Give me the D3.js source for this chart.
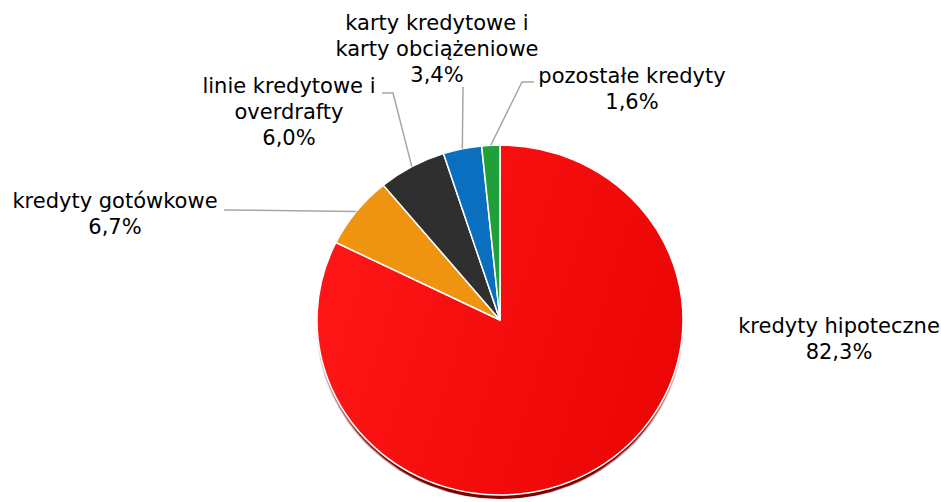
<!DOCTYPE html>
<html>
<head>
<meta charset="utf-8">
<script src="https://cdn.jsdelivr.net/npm/d3@7"></script>
<style>
  html, body { margin: 0; padding: 0; background: #fff; }
  svg { display: block; }
</style>
</head>
<body>
<svg id="chart" width="941" height="502"></svg>
<script>
// ---- data ----
const categories = ["kredyty hipoteczne", "kredyty gotówkowe", "linie kredytowe i overdrafty", "karty kredytowe i karty obciążeniowe", "pozostałe kredyty"];
const values = [82.3, 6.7, 6.0, 3.4, 1.6];
const labelLines = [
  ["kredyty hipoteczne", "82,3%"],
  ["kredyty gotówkowe", "6,7%"],
  ["linie kredytowe i", "overdrafty", "6,0%"],
  ["karty kredytowe i", "karty obciążeniowe", "3,4%"],
  ["pozostałe kredyty", "1,6%"]
];
const colors = ["url(#redGrad)", "#ee9410", "#2f2f2f", "#0b6fbf", "#21a03a"];

// ---- layout ----
const W = 941, H = 502;
const cx = 500, cy = 320, rx = 183, ry = 175;
const fontSize = 21, lineH = 26;
// label anchor: centre x and first baseline y
const labelPos = [
  { x: 839, y: 333 },
  { x: 115, y: 208 },
  { x: 289, y: 93 },
  { x: 437, y: 30 },
  { x: 632, y: 83 }
];
// leader start points (label side); end is computed from the slice
const leaderStart = [
  null,
  [[224, 210]],
  [[382, 93], [393, 93]],
  [[463, 87]],
  [[534, 82], [522, 82]]
];

const svg = d3.select("#chart");
const defs = svg.append("defs");
const rg = defs.append("linearGradient").attr("id", "redGrad")
  .attr("gradientUnits", "userSpaceOnUse")
  .attr("x1", -rx).attr("y1", -rx * 0.3).attr("x2", rx).attr("y2", rx * 0.3);
rg.append("stop").attr("offset", "0%").attr("stop-color", "#ff1616");
rg.append("stop").attr("offset", "100%").attr("stop-color", "#eb0505");

const blur = defs.append("filter").attr("id", "shBlur")
  .attr("x", "-10%").attr("y", "-10%").attr("width", "120%").attr("height", "120%");
blur.append("feGaussianBlur").attr("stdDeviation", 0.8);

const pie = d3.pie().sort(null).value(d => d);
const arcs = pie(values);
const arc = d3.arc().innerRadius(0).outerRadius(rx);

const g = svg.append("g")
  .attr("transform", `translate(${cx},${cy}) scale(1,${ry / rx})`);

// shadow
g.append("circle")
  .attr("cx", 0).attr("cy", 5 * rx / ry).attr("r", rx - 1)
  .attr("fill", "#7d0505")
  .attr("filter", "url(#shBlur)");

g.selectAll("path.slice")
  .data(arcs)
  .join("path")
  .attr("class", "slice")
  .attr("d", arc)
  .attr("fill", (d, i) => colors[i])
  .attr("stroke", "#fff")
  .attr("stroke-width", 1.5)
  .attr("vector-effect", "non-scaling-stroke");

// leader lines
const line = d3.line();
arcs.forEach((d, i) => {
  if (!leaderStart[i]) return;
  const a = (d.startAngle + d.endAngle) / 2;
  const end = [cx + rx * Math.sin(a), cy - ry * Math.cos(a)];
  svg.append("path")
    .attr("d", line([...leaderStart[i], end]))
    .attr("fill", "none")
    .attr("stroke", "#a6a6a6")
    .attr("stroke-width", 1.5);
});

// labels
labelLines.forEach((lines, i) => {
  const t = svg.append("text")
    .attr("x", labelPos[i].x)
    .attr("y", labelPos[i].y)
    .attr("text-anchor", "middle")
    .attr("font-family", "'DejaVu Sans', Verdana, sans-serif")
    .attr("font-size", fontSize)
    .attr("fill", "#000");
  lines.forEach((s, j) => {
    t.append("tspan")
      .attr("x", labelPos[i].x)
      .attr("y", labelPos[i].y + j * lineH)
      .text(s);
  });
});
</script>
</body>
</html>
